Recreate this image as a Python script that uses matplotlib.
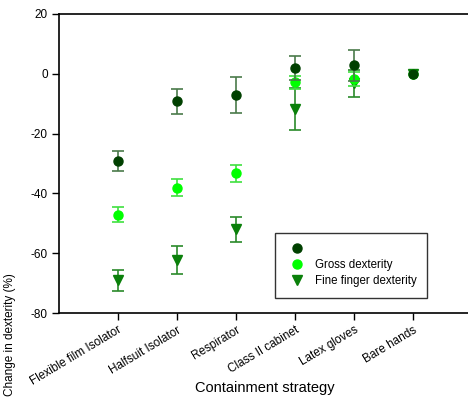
import matplotlib
matplotlib.use("Agg")
import matplotlib.pyplot as plt
from matplotlib.lines import Line2D
import numpy as np

plt.rcParams['font.family'] = ['Liberation Sans', 'DejaVu Sans']

categories = ["Flexible film Isolator", "Halfsuit Isolator", "Respirator",
              "Class II cabinet", "Latex gloves", "Bare hands"]
series_a = [-29.2, -9.2, -7.1, 2.0, 2.8, 0.0]
series_a_err = [3.3, 4.1, 5.9, 4.1, 5.2, None]
gross = [-47.2, -38.1, -33.3, -2.9, -1.7, 0.0]
gross_err = [2.5, 2.9, 2.9, 2.3, 2.4, None]
fine = [-69.0, -62.3, -52.0, -11.8, -3.2, 0.0]
fine_err = [3.5, 4.6, 4.2, 7.0, 4.5, None]
legend_labels = ["", "Gross dexterity", "Fine finger dexterity"]
yticks = [20, 0, -20, -40, -60, -80]


def arr(v):
    return np.array([np.nan if e is None else e for e in v], dtype=float)


fig = plt.figure(figsize=(4.68, 3.98), dpi=100)
W, H = 468, 398
left, right, top, bottom = 59, 472, 14, 313
ax = fig.add_axes([left / W, 1 - bottom / H, (right - left) / W, (bottom - top) / H])

x = list(range(1, len(categories) + 1))

c_dark, e_dark = '#004000', '#4a7a4a'
c_light, e_light = '#00ff00', '#40e040'
c_fine, e_fine = '#0a800a', '#2a8a2a'

ax.errorbar(x, fine, yerr=arr(fine_err), fmt='v', color=c_fine, ecolor=e_fine,
            markersize=6.5, capsize=4, elinewidth=1.2, capthick=1.2, zorder=2)
ax.errorbar(x, gross, yerr=arr(gross_err), fmt='o', color=c_light, ecolor=e_light,
            markersize=6.5, capsize=4, elinewidth=1.2, capthick=1.2, zorder=3)
ax.errorbar(x, series_a, yerr=arr(series_a_err), fmt='o', color=c_dark, ecolor=e_dark,
            markersize=6.5, capsize=4, elinewidth=1.2, capthick=1.2, zorder=4)

ax.set_xlim(0, 7)
ax.set_ylim(-80, 20)
ax.set_yticks(yticks)
ax.set_yticklabels([str(v) for v in yticks], fontsize=8.5)
ax.set_xticks(x)
ax.set_xticklabels(categories, rotation=31, ha='right', rotation_mode='anchor', fontsize=8.5)
ax.tick_params(direction='out', length=5, width=1, pad=3)
ax.spines['right'].set_visible(False)
for s in ['left', 'top', 'bottom']:
    ax.spines[s].set_linewidth(1.2)

ax.set_xlabel("Containment strategy", fontsize=10.5)
ax.xaxis.set_label_coords((265 - left) / (right - left), -(381 - bottom) / (bottom - top))

fig.text(10 / W, 1 - 335 / H, "Change in dexterity (%)", rotation=90,
         ha='center', va='center', fontsize=8.5)

handles = [Line2D([], [], marker='o', color=c_dark, linestyle='none', markersize=6.5),
           Line2D([], [], marker='o', color=c_light, linestyle='none', markersize=6.5),
           Line2D([], [], marker='v', color=c_fine, linestyle='none', markersize=6.5)]
leg = ax.legend(handles, legend_labels, loc='upper left',
                bbox_to_anchor=((275 - left) / (right - left), 1 - (233 - top) / (bottom - top)),
                fontsize=8.3, frameon=True, fancybox=False, edgecolor='black',
                borderpad=0.9, labelspacing=0.35, handletextpad=0.6, borderaxespad=0)
leg.get_frame().set_linewidth(1.0)

fig.savefig("out.png", dpi=100)
